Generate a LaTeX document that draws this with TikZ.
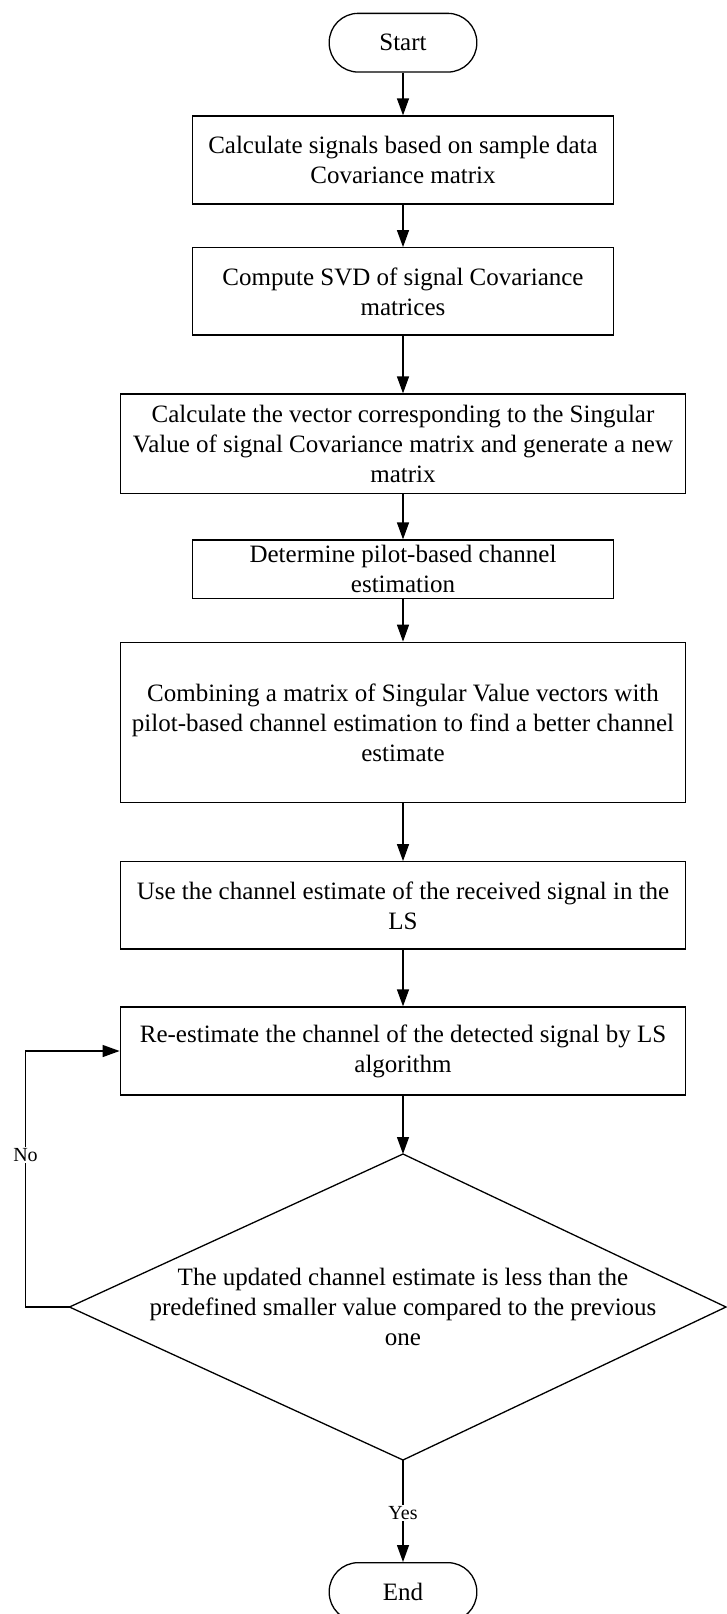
\documentclass[tikz,border=0pt]{standalone}
\usepackage{fontspec}
\setmainfont{Liberation Serif}
\usetikzlibrary{arrows.meta}
\begin{document}
\begin{tikzpicture}[x=1pt,y=-1pt,
  every node/.style={font=\fontsize{25}{30}\selectfont, align=center, inner sep=0pt},
  stepbox/.style={draw, line width=1.3pt, rectangle},
  termbox/.style={draw, line width=1.3pt, rectangle, rounded corners=29pt, minimum width=147.6pt, minimum height=58.7pt},
  lbl/.style={font=\fontsize{20}{24}\selectfont, fill=white, inner sep=1pt},
  conn/.style={line width=1.3pt, -{Triangle[length=17pt,width=12pt]}},
  plain/.style={line width=1.3pt}
]
\clip (0,0) rectangle (727,1614);
\fill[white] (0,0) rectangle (727,1614);

\node[termbox] (start) at (403,42.7) {Start};
\node[stepbox, minimum width=421pt, minimum height=88pt] (b1) at (403,160)
  {Calculate signals based on sample data\\Covariance matrix};
\node[stepbox, minimum width=421pt, minimum height=87.3pt] (b2) at (403,291.4)
  {Compute SVD of signal Covariance\\matrices};
\node[stepbox, minimum width=565.5pt, minimum height=99.3pt] (b3) at (403,443.7)
  {Calculate the vector corresponding to the Singular\\Value of signal Covariance matrix and generate a new\\matrix};
\node[stepbox, minimum width=421pt, minimum height=58.3pt] (b4) at (403,569.2)
  {Determine pilot-based channel\\estimation};
\node[stepbox, minimum width=565.5pt, minimum height=160.4pt] (b5) at (403,722.5)
  {Combining a matrix of Singular Value vectors with\\pilot-based channel estimation to find a better channel\\estimate};
\node[stepbox, minimum width=565.5pt, minimum height=87.3pt] (b6) at (403,905.4)
  {Use the channel estimate of the received signal in the\\LS};
\node[stepbox, minimum width=565.5pt, minimum height=88pt] (b7) at (403,1051)
  {Re-estimate the channel of the detected signal by LS\\algorithm};

\coordinate (dtop) at (403,1154);
\coordinate (dright) at (726,1307);
\coordinate (dbot) at (403,1460);
\coordinate (dleft) at (69.5,1307);
\draw[plain, line join=miter] (dtop) -- (dright) -- (dbot) -- (dleft) -- cycle;
\node (dec) at (403,1307)
  {The updated channel estimate is less than the\\predefined smaller value compared to the previous\\one};

\node[termbox] (end) at (403,1592) {End};

\draw[conn] (start) -- (b1);
\draw[conn] (b1) -- (b2);
\draw[conn] (b2) -- (b3);
\draw[conn] (b3) -- (b4);
\draw[conn] (b4) -- (b5);
\draw[conn] (b5) -- (b6);
\draw[conn] (b6) -- (b7);
\draw[conn] (b7) -- (dtop);
\coordinate (lb) at (25.5,1307);
\coordinate (lt) at (25.5,1051);
\draw[conn, line join=miter] (dleft) -- (lb) -- (lt) -- (b7.west);
\node[lbl] (no) at (25.5,1155) {No};
\draw[conn] (dbot) -- (end);
\node[lbl] (yes) at (403,1513) {Yes};
\end{tikzpicture}
\end{document}
